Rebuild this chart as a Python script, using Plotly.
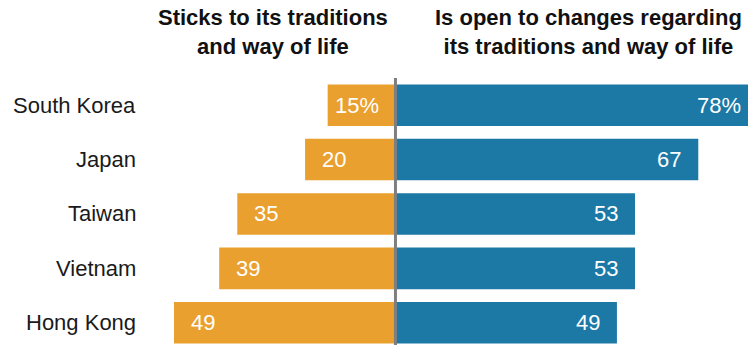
import plotly.graph_objects as go

# Share saying their country ... (percent)
countries = ["South Korea", "Japan", "Taiwan", "Vietnam", "Hong Kong"]
sticks_to_traditions = [15, 20, 35, 39, 49]
open_to_changes = [78, 67, 53, 53, 49]

header_left = "Sticks to its traditions<br>and way of life"
header_right = "Is open to changes regarding<br>its traditions and way of life"

ORANGE = "#EAA02E"
BLUE = "#1C79A6"
W, H = 748, 345
TOP = 78  # top of plotting area in pixels
LABEL_OFFSET = 6.4  # distance of value labels from bar end, in data units


def value_text(values):
    return [f"{v}%" if i == 0 else f"{v}" for i, v in enumerate(values)]


def ypaper(px):
    # convert a pixel row (from top of figure) to paper coordinates
    return 1 + (TOP - px) / (H - TOP)


fig = go.Figure()
fig.add_trace(go.Bar(
    y=countries, x=[-v for v in sticks_to_traditions], orientation="h",
    marker=dict(color=ORANGE, line=dict(width=0)), width=0.765,
    hoverinfo="skip",
))
fig.add_trace(go.Bar(
    y=countries, x=open_to_changes, orientation="h",
    marker=dict(color=BLUE, line=dict(width=0)), width=0.765,
    hoverinfo="skip",
))

annotations = []
value_font = dict(family="Liberation Sans, Arial, sans-serif", size=22, color="white")
for c, v, t in zip(countries, sticks_to_traditions, value_text(sticks_to_traditions)):
    annotations.append(dict(x=-v + LABEL_OFFSET, y=c, xref="x", yref="y", text=t,
                            showarrow=False, xanchor="center", yanchor="middle",
                            font=value_font))
for c, v, t in zip(countries, open_to_changes, value_text(open_to_changes)):
    annotations.append(dict(x=v - LABEL_OFFSET, y=c, xref="x", yref="y", text=t,
                            showarrow=False, xanchor="center", yanchor="middle",
                            font=value_font))
for c in countries:
    annotations.append(dict(x=138 / W, y=c, xref="paper", yref="y", text=c,
                            showarrow=False, xanchor="right", yanchor="middle",
                            font=dict(family="Liberation Sans, Arial, sans-serif",
                                      size=22, color="#1a1a1a")))

header_font = dict(family="Liberation Sans, Arial, sans-serif", size=22, color="#111111")
annotations.append(dict(x=273 / W, y=ypaper(3), xref="paper", yref="paper",
                        text=f"<b>{header_left}</b>", showarrow=False,
                        xanchor="center", yanchor="top", align="center",
                        font=header_font))
annotations.append(dict(x=588 / W, y=ypaper(3), xref="paper", yref="paper",
                        text=f"<b>{header_right}</b>", showarrow=False,
                        xanchor="center", yanchor="top", align="center",
                        font=header_font))

fig.update_layout(
    width=W, height=H,
    margin=dict(l=0, r=0, t=TOP, b=0),
    barmode="overlay",
    showlegend=False,
    plot_bgcolor="white", paper_bgcolor="white",
    xaxis=dict(range=[-87.5, 78.0], visible=False, fixedrange=True),
    yaxis=dict(range=[4.41, -0.5], visible=False, fixedrange=True,
               categoryorder="array", categoryarray=countries),
    annotations=annotations,
    shapes=[dict(type="line", xref="x", yref="paper", x0=0, x1=0, y0=0, y1=1,
                 line=dict(color="#7F7F7F", width=3))],
)

fig.write_html("out.html")
